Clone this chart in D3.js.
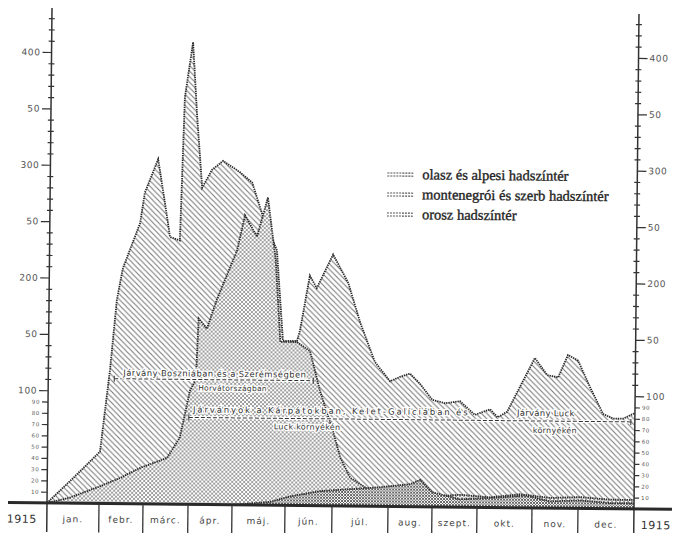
<!DOCTYPE html>
<html><head><meta charset="utf-8">
<script src="https://cdn.jsdelivr.net/npm/d3@7"></script>
<style>body{margin:0;background:#fff}svg{display:block}</style>
</head><body>
<svg id="c" width="677" height="533"></svg>
<script>
// ---------------- DATA ----------------
const months = ["jan.","febr.","márc.","ápr.","máj.","jún.","júl.","aug.","szept.","okt.","nov.","dec."];
const yearLabel = "1915";
const seriesNames = ["olasz és alpesi hadszíntér","montenegrói és szerb hadszíntér","orosz hadszíntér"];

// time in months since 1 Jan 1915 (0..12), values = cases
const oroszMonth = [0,0.49,1.01,1.22,1.36,1.49,1.87,1.97,2.26,2.47,2.54,2.76,2.84,3.01,3.12,3.25,3.47,3.72,4.09,4.32,4.53,4.80,4.93,5.22,5.28,5.48,5.63,5.97,6.25,6.47,6.74,7.02,7.24,7.47,7.70,7.98,8.27,8.60,8.93,9.22,9.36,9.53,10.03,10.30,10.54,10.75,10.97,11.19,11.43,11.61,11.79,12];
const oroszValue = [0,22,46,119,181,209,249,276,306,255,237,234,361,410,344,281,297,305,295,286,256,226,146,146,155,204,193,223,198,163,128,111,115,118,109,95,92,94,82,87,80,85,133,118,116,136,131,108,84,80,80,85];

const szerbMonth = [0,0.44,1.0,1.48,1.93,2.52,2.80,3.02,3.15,3.20,3.39,3.61,4.05,4.19,4.42,4.62,4.78,4.88,5.22,5.50,5.72,6.0,6.14,6.32,6.68,7.27,7.95,8.62,9.24,9.78,10.39,11.04,11.57,12];
const szerbValue = [0,5,15,23,32,41,59,101,111,165,156,182,226,257,238,273,217,145,145,137,102,67,43,25,14,10,9,11,9,12,9,10,8,8];

const olaszMonth = [0,4.0,4.72,5.10,5.74,6.32,6.86,7.50,7.73,8.0,8.62,9.42,9.87,10.39,11.04,11.57,12];
const olaszValue = [0,0,3,8,13,15,17,20,24,13,7,9,11,6,7,5,5];

const majorTickValues = [100,150,200,250,300,350,400];
const majorTickLabels = ["100","50","200","50","300","50","400"];
const smallTickValues = [10,20,30,40,50,60,70,80,90];
const smallTickLabels = ["10","20","30","40","50","60","70","80","90"];

const annotTexts = [
  ["Járvány Boszniában és a Szerémségben","Horvátországban"],
  ["Járványok a Kárpátokban, Kelet-Galíciában és","Luck környékén"],
  ["Járvány Luck","környékén"]
];

// ---------------- LAYOUT ----------------
const svg = d3.select("#c");
const defs = svg.append("defs");
const root = svg.append("g").attr("transform","rotate(0.58,47,503)");

const x = d3.scaleLinear().domain(d3.range(13))
  .range([47,99,143,188,232,285,332,388,432,477,532,578,634]);
const y = d3.scaleLinear().domain([0,400]).range([503,52]);

function pattern(id, size, d, stroke, sw){
  const p = defs.append("pattern").attr("id",id).attr("patternUnits","userSpaceOnUse")
    .attr("width",size).attr("height",size);
  p.append("rect").attr("width",size).attr("height",size).attr("fill","#fff");
  p.append("path").attr("d",d).attr("stroke",stroke).attr("stroke-width",sw).attr("fill","none");
}
pattern("hL",5.5,"M-1,-1L6.5,6.5M-1,4.5L1,6.5M4.5,-1L6.5,1","#7a7a7a",1.1);
pattern("hX",4,"M-1,-1L5,5M-1,3L1,5M3,-1L5,1M-1,5L5,-1M-1,1L1,-1M3,5L5,3","#858585",0.8);
pattern("hO",3,"M-1,-1L4,4M-1,2L1,4M2,-1L4,1M-1,4L4,-1M-1,1L1,-1M2,4L4,2","#555",0.9);

const zip = (ms,vs)=>ms.map((m,i)=>({m, v:vs[i]}));
const series = [
  {data: zip(oroszMonth,oroszValue), fill:"url(#hL)"},
  {data: zip(szerbMonth,szerbValue), fill:"url(#hX)"},
  {data: zip(olaszMonth,olaszValue), fill:"url(#hO)"}
];
const area = d3.area().x(d=>x(d.m)).y0(y(0)).y1(d=>y(d.v));
const line = d3.line().x(d=>x(d.m)).y(d=>y(d.v));
series.forEach(s=>{
  root.append("path").attr("d",area(s.data)).attr("fill",s.fill);
  root.append("path").attr("d",line(s.data)).attr("fill","none")
    .attr("stroke","#2a2a2a").attr("stroke-width",1.8).attr("stroke-dasharray","1.4,0.9")
    .attr("stroke-linejoin","miter");
});

// Axes
const tickFont = "DejaVu Sans, sans-serif";
function styleAxis(g, fs){
  g.select(".domain").remove();
  g.selectAll("line").attr("stroke","#333").attr("stroke-width",1.2);
  g.selectAll("text").attr("fill","#555").attr("font-family",tickFont).attr("font-size",fs)
    .attr("letter-spacing",0.6);
}
const minorVals = d3.range(110,440,10).filter(v=>v%50!==0);
// left
root.append("g").attr("transform","translate(47,0)")
  .call(d3.axisLeft(y).tickValues(majorTickValues).tickFormat((d,i)=>majorTickLabels[i]).tickSize(9).tickPadding(2))
  .call(g=>styleAxis(g,9));
root.append("g").attr("transform","translate(47,0)")
  .call(d3.axisLeft(y).tickValues(smallTickValues).tickFormat((d,i)=>smallTickLabels[i]).tickSize(6).tickPadding(2))
  .call(g=>styleAxis(g,5.5));
root.append("g").attr("transform","translate(50,0)")
  .call(d3.axisLeft(y).tickValues(minorVals).tickFormat("").tickSize(6))
  .call(g=>styleAxis(g,0));
// right
root.append("g").attr("transform","translate(634,0)")
  .call(d3.axisRight(y).tickValues(majorTickValues).tickFormat((d,i)=>majorTickLabels[i]).tickSize(9).tickPadding(2))
  .call(g=>styleAxis(g,9));
root.append("g").attr("transform","translate(634,0)")
  .call(d3.axisRight(y).tickValues(smallTickValues).tickFormat((d,i)=>smallTickLabels[i]).tickSize(5).tickPadding(2))
  .call(g=>styleAxis(g,5.5));
root.append("g").attr("transform","translate(631,0)")
  .call(d3.axisRight(y).tickValues(minorVals).tickFormat("").tickSize(6))
  .call(g=>styleAxis(g,0));

// axis lines
[47,634].forEach(px=>{
  root.append("line").attr("x1",px).attr("x2",px).attr("y1",8).attr("y2",532)
    .attr("stroke","#333").attr("stroke-width",1.5);
});
// baseline
root.append("line").attr("x1",8).attr("x2",672).attr("y1",y(0)).attr("y2",y(0))
  .attr("stroke","#2a2a2a").attr("stroke-width",3);

// month dividers and labels
d3.range(1,12).forEach(i=>{
  root.append("line").attr("x1",x(i)).attr("x2",x(i)).attr("y1",y(0)).attr("y2",532)
    .attr("stroke","#333").attr("stroke-width",1.3);
});
months.forEach((mn,i)=>{
  root.append("text").attr("x",(x(i)+x(i+1))/2).attr("y",522).attr("text-anchor","middle")
    .attr("font-family",tickFont).attr("font-size",9).attr("letter-spacing",1).attr("fill","#444").text(mn);
});
[22,656].forEach(px=>{
  root.append("text").attr("x",px).attr("y",523).attr("text-anchor","middle")
    .attr("font-family",tickFont).attr("font-size",11).attr("fill","#333").attr("letter-spacing",0.5).text(yearLabel);
});

// annotations
function atext(t,px,py,fs,len){
  const el = root.append("text").attr("x",px).attr("y",py).attr("font-family",tickFont)
    .attr("font-size",fs).attr("fill","#333").attr("stroke","#fff").attr("stroke-width",2.6)
    .attr("paint-order","stroke").attr("letter-spacing",0.3).text(t);
  if(len) el.attr("textLength",len).attr("lengthAdjust","spacing");
}
function dash(x1,x2,py){
  root.append("line").attr("x1",x1).attr("x2",x2).attr("y1",py).attr("y2",py)
    .attr("stroke","#fff").attr("stroke-width",3);
  root.append("line").attr("x1",x1).attr("x2",x2).attr("y1",py).attr("y2",py)
    .attr("stroke","#333").attr("stroke-width",1).attr("stroke-dasharray","4,2");
  [x1,x2].forEach(e=>root.append("line").attr("x1",e).attr("x2",e).attr("y1",py-3).attr("y2",py+3)
    .attr("stroke","#333").attr("stroke-width",1));
}
dash(113,312,378);
atext(annotTexts[0][0],122,375,8.5,183);
atext(annotTexts[0][1],197,389,7.5);
dash(188,630,416);
atext(annotTexts[1][0],192,411,8.5,275);
atext(annotTexts[1][1],273,427,8);
atext(annotTexts[2][0],516,411,8.5);
atext(annotTexts[2][1],532,428,8);

// legend
const legY = [171,191,211];
seriesNames.forEach((n,i)=>{
  const ly = legY[i];
  [-1.5,1.5].forEach(off=>root.append("line").attr("x1",384).attr("x2",410)
    .attr("y1",ly+off).attr("y2",ly+off).attr("stroke","#555").attr("stroke-width",1.1)
    .attr("stroke-dasharray","2,1"));
  root.append("text").attr("x",419).attr("y",ly+4.5).attr("font-family","Liberation Serif, serif")
    .attr("font-size",14.5).attr("fill","#1e1e1e").attr("stroke","#1e1e1e").attr("stroke-width",0.35).text(n);
});
</script>
</body></html>
